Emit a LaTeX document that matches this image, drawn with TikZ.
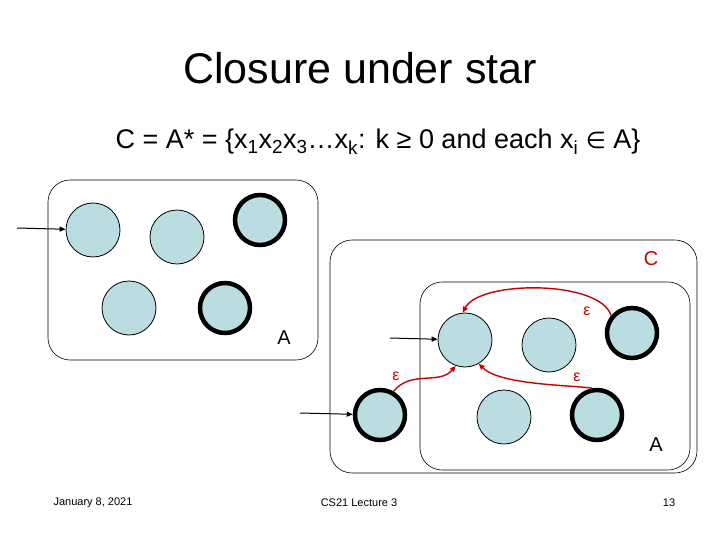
\documentclass[tikz,border=0pt]{standalone}
\usepackage{fontspec}
\setmainfont{Liberation Sans}
\newfontfamily\djv{DejaVu Sans}
\usetikzlibrary{arrows.meta}
\newcommand{\sbs}[1]{\textsubscript{#1}}
\begin{document}
\begin{tikzpicture}[x=1pt,y=-1pt,
  st/.style={circle,draw=black,fill={rgb,255:red,187;green,221;blue,226},minimum size=54pt,inner sep=0pt,line width=0.8pt},
  acc/.style={st,line width=4.5pt,minimum size=50pt},
  box/.style={draw,rounded corners=22pt,line width=0.6pt},
  eps/.style={draw={rgb,255:red,200;green,0;blue,0},line width=1.4pt,-{Triangle[length=6pt,width=5pt]}},
  ed/.style={line width=1pt,-{Triangle[length=6pt,width=5pt]}},
  red/.style={text={rgb,255:red,200;green,0;blue,0}}]
\useasboundingbox (0,0) rectangle (720,540);
\node (title) at (360,68) {\fontsize{43}{47}\selectfont Closure under star};
\node (form) at (378,142) {\fontsize{27}{31}\selectfont C = A* = \{x\sbs{1}x\sbs{2}x\sbs{3}\ldots x\sbs{k}: k ≥ 0 and each x\sbs{i} {\djv\fontsize{23}{27}\selectfont ∈} A\}};
\draw[box] (48,180) rectangle (318,360);
\node[st] (a1) at (93,230) {};
\node[st] (a2) at (177,237) {};
\node[acc] (a3) at (260,220) {};
\node[st] (a4) at (129,308) {};
\node[acc] (a5) at (225,308) {};
\node (la) at (284,338) {\fontsize{20}{24}\selectfont A};
\coordinate (s1) at (17,228);
\draw[ed] (s1) -- (a1);
\draw[box] (330,240) rectangle (697,473);
\draw[box] (420,282) rectangle (690,470);
\node[red] (lc) at (651,259) {\fontsize{20}{24}\selectfont C};
\node (la2) at (656,445) {\fontsize{20}{24}\selectfont A};
\node[st] (b1) at (465,340) {};
\node[st] (b2) at (549,345) {};
\node[acc] (b3) at (632,333) {};
\node[acc] (n0) at (380,415) {};
\node[st] (b4) at (504,417) {};
\node[acc] (b5) at (597,415) {};
\coordinate (s2) at (390,338);
\coordinate (s3) at (300,413);
\draw[ed] (s2) -- (b1);
\draw[ed] (s3) -- (n0);
\draw[eps] (n0.60) .. controls (410,370) and (440,385) .. (b1.250);
\draw[eps] (b5.100) .. controls (570,385) and (500,385) .. (b1.300);
\draw[eps] (b3.140) .. controls (600,280) and (480,280) .. (b1.95);
\node[red] (e1) at (396,376) {\fontsize{16}{18}\selectfont ε};
\node[red] (e2) at (577,377) {\fontsize{16}{18}\selectfont ε};
\node[red] (e3) at (587,311) {\fontsize{16}{18}\selectfont ε};
\node (f1) at (93,503) {\fontsize{11}{13}\selectfont January 8, 2021};
\node (f2) at (359,503) {\fontsize{11}{13}\selectfont CS21 Lecture 3};
\node (f3) at (669,503) {\fontsize{11}{13}\selectfont 13};
\end{tikzpicture}
\end{document}
